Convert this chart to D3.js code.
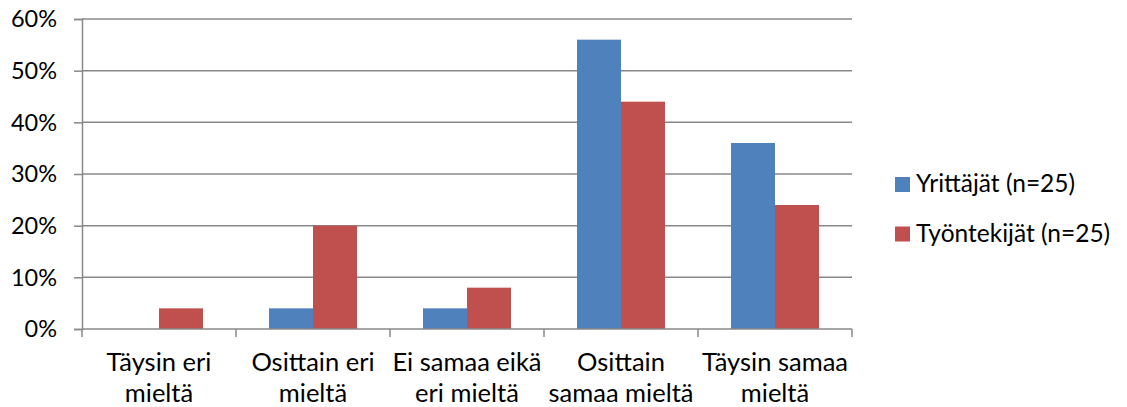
<!DOCTYPE html>
<html>
<head>
<meta charset="utf-8">
<script src="https://cdn.jsdelivr.net/npm/d3@7"></script>
<style>
  html, body { margin: 0; padding: 0; background: #fff; }
  svg { display: block; font-family: Lato, "Open Sans", sans-serif; }
</style>
</head>
<body>
<svg id="chart" width="1127" height="407"></svg>
<script>
// Survey answers, share of respondents per group
const categories = [
  ["Täysin eri", "mieltä"],
  ["Osittain eri", "mieltä"],
  ["Ei samaa eikä", "eri mieltä"],
  ["Osittain", "samaa mieltä"],
  ["Täysin samaa", "mieltä"]
];
const seriesNames = ["Yrittäjät (n=25)", "Työntekijät (n=25)"];
const yrittajat   = [0, 4, 4, 56, 36];
const tyontekijat = [4, 20, 8, 44, 24];
const yTicks = [0, 10, 20, 30, 40, 50, 60];
const colors = ["#4F81BD", "#C0504D"];

const seriesValues = [yrittajat, tyontekijat];
const svg = d3.select("#chart");

const plot = { left: 82, right: 852, top: 19, bottom: 329 };
const gridColor = "#888888";
const tickFont = 23.5;
const catFont = 25.5;
const legendFont = 24.5;

const x0 = d3.scaleBand()
  .domain(d3.range(categories.length))
  .range([plot.left, plot.right])
  .padding(0);

const x1 = d3.scaleBand()
  .domain(d3.range(seriesNames.length))
  .range([0, x0.bandwidth()])
  .paddingInner(0)
  .paddingOuter(0.75);

const y = d3.scaleLinear()
  .domain([0, 60])
  .range([plot.bottom, plot.top]);

// horizontal gridlines
svg.append("g")
  .selectAll("line")
  .data(yTicks.filter(t => t > 0))
  .join("line")
  .attr("x1", plot.left)
  .attr("x2", plot.right)
  .attr("y1", d => y(d))
  .attr("y2", d => y(d))
  .attr("stroke", gridColor)
  .attr("stroke-width", 1.5);

// bars
const groups = svg.append("g")
  .selectAll("g")
  .data(categories.map((c, i) => i))
  .join("g")
  .attr("transform", i => `translate(${x0(i)},0)`);

groups.selectAll("rect")
  .data(i => seriesValues.map((vals, s) => ({ s, v: vals[i] })))
  .join("rect")
  .attr("x", d => x1(d.s))
  .attr("width", x1.bandwidth())
  .attr("y", d => y(d.v))
  .attr("height", d => y(0) - y(d.v))
  .attr("fill", d => colors[d.s]);

// y axis
const yAxis = d3.axisLeft(y)
  .tickValues(yTicks)
  .tickSize(8)
  .tickPadding(17)
  .tickFormat(d => d + "%");

const gy = svg.append("g")
  .attr("transform", `translate(${plot.left},0)`)
  .call(yAxis);
gy.select(".domain").attr("stroke", gridColor).attr("stroke-width", 1.5);
gy.selectAll(".tick line").attr("stroke", gridColor).attr("stroke-width", 1.5);
gy.selectAll(".tick text")
  .attr("font-size", tickFont)
  .attr("font-family", "Lato, sans-serif")
  .attr("fill", "#000")
  .attr("dy", "0.33em");

// x axis: baseline plus boundary ticks between categories
const xAxisG = svg.append("g");
xAxisG.append("line")
  .attr("x1", plot.left)
  .attr("x2", plot.right)
  .attr("y1", y(0))
  .attr("y2", y(0))
  .attr("stroke", gridColor)
  .attr("stroke-width", 1.5);

const boundaries = d3.range(categories.length + 1)
  .map(i => i < categories.length ? x0(i) : x0(i - 1) + x0.bandwidth());
xAxisG.selectAll("line.tick")
  .data(boundaries)
  .join("line")
  .attr("class", "tick")
  .attr("x1", d => d)
  .attr("x2", d => d)
  .attr("y1", y(0))
  .attr("y2", y(0) + 8)
  .attr("stroke", gridColor)
  .attr("stroke-width", 1.5);

// category labels (two lines each)
const labels = xAxisG.selectAll("text")
  .data(categories)
  .join("text")
  .attr("text-anchor", "middle")
  .attr("font-size", catFont)
  .attr("fill", "#000");
labels.each(function (lines, i) {
  const t = d3.select(this);
  lines.forEach((ln, k) => {
    t.append("tspan")
      .attr("x", x0(i) + x0.bandwidth() / 2)
      .attr("y", 371 + k * 31)
      .text(ln);
  });
});

// legend
const legend = svg.append("g")
  .selectAll("g")
  .data(seriesNames)
  .join("g")
  .attr("transform", (d, i) => `translate(895,${177 + i * 49.5})`);
legend.append("rect")
  .attr("width", 15)
  .attr("height", 15)
  .attr("fill", (d, i) => colors[i]);
legend.append("text")
  .attr("x", 21)
  .attr("y", 15)
  .attr("font-size", legendFont)
  .attr("fill", "#000")
  .text(d => d);
</script>
</body>
</html>
